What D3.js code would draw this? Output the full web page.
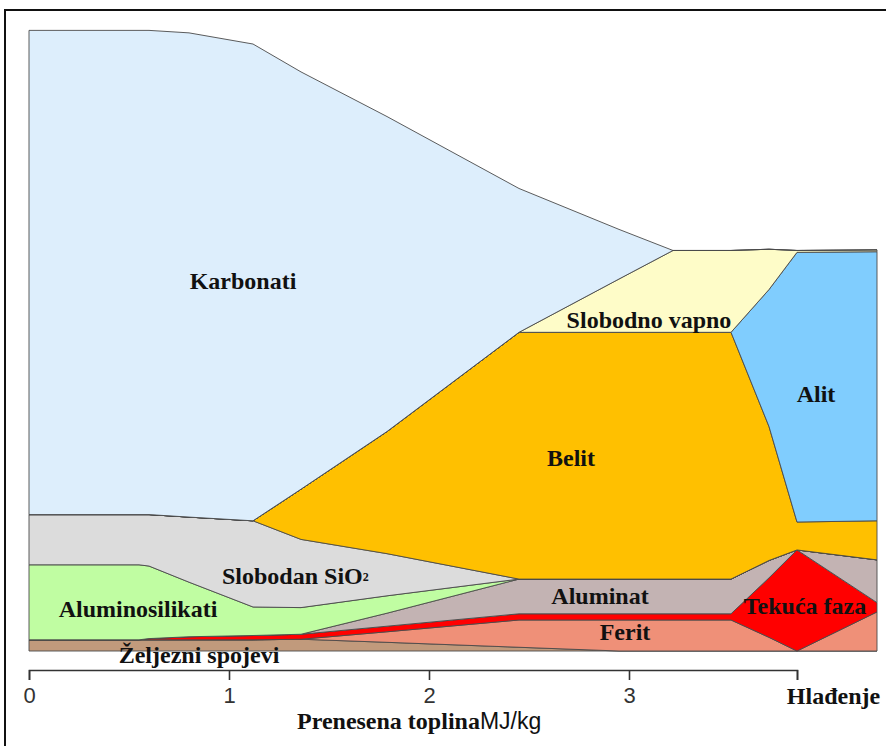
<!DOCTYPE html>
<html>
<head>
<meta charset="utf-8">
<style>
body { margin: 0; background: #fff; }
.lbl { font-family: "Liberation Serif", "Times New Roman", serif; font-weight: bold; font-size: 24px; fill: #111; }
.num { font-family: "Liberation Sans Narrow", "Liberation Sans", Arial, sans-serif; font-size: 22px; fill: #333; }
</style>
</head>
<body>
<svg width="886" height="746"></svg>
<script src="https://cdn.jsdelivr.net/npm/d3@7/dist/d3.min.js"></script>
<script>

// transferred heat, MJ/kg (last point is the cooling zone)
var heat = [0, 0.55, 0.6, 0.8, 1.12, 1.36, 1.79, 2.45, 2.95, 3.22, 3.51, 3.7, 3.84, 4.24];

// mass share of each phase, % of raw meal (bottom to top)
var zeljezni   = [1.8, 1.8, 1.8, 1.8, 1.8, 1.9, 1.4, 0.6, 0, 0, 0, 0, 0, 0];
var ferit      = [0, 0, 0, 0, 0, 0, 1.7, 4.4, 5.0, 5.0, 5.0, 2.2, 0, 6.3];
var tekuca     = [0, 0, 0.2, 0.5, 0.7, 0.8, 0.9, 1.0, 1.0, 1.0, 1.0, 9.6, 16.3, 1.5];
var aluminat   = [0, 0, 0, 0, 0, 0, 2.1, 5.6, 5.6, 5.6, 5.6, 2.8, 0, 6.9];
var alumosil   = [12.1, 12.1, 11.7, 8.8, 4.6, 4.3, 2.8, 0, 0, 0, 0, 0, 0, 0];
var sio2       = [8.1, 8.1, 8.3, 10.5, 13.9, 11.0, 6.8, 0, 0, 0, 0, 0, 0, 0];
var belit      = [0, 0, 0, 0, 0, 8.1, 19.7, 39.8, 39.8, 39.8, 39.8, 21.6, 4.5, 6.3];
var alit       = [0, 0, 0, 0, 0, 0, 0, 0, 0, 0, 0, 22.1, 43.5, 43.4];
var vapno      = [0, 0, 0, 0, 0, 0, 0, 0, 8.6, 13.2, 13.2, 6.5, 0.3, 0.3];
var karbonati  = [78.1, 78.1, 78.1, 78.1, 76.9, 67.3, 50.8, 23.2, 8.0, 0, 0, 0, 0, 0];

var phases = ["Željezni spojevi", "Ferit", "Tekuća faza", "Aluminat", "Aluminosilikati",
              "Slobodan SiO2", "Belit", "Alit", "Slobodno vapno", "Karbonati"];
var series = [zeljezni, ferit, tekuca, aluminat, alumosil, sio2, belit, alit, vapno, karbonati];
var colors = ["#c19a7c", "#ef9078", "#ff0000", "#c3b3b3", "#c0fda2",
              "#dcdcdc", "#ffc000", "#80cdfe", "#fefcc8", "#ddeefc"];

// axis ticks
var tickValues = [0, 1, 2, 3, 3.84];
var tickLabels = ["0", "1", "2", "3", "Hlađenje"];

// label anchors in data units (heat, %)
var labelNames = ["Karbonati", "Slobodno vapno", "Belit", "Alit", "Slobodan SiO", "Aluminosilikati",
                  "Aluminat", "Tekuća faza", "Ferit", "Željezni spojevi"];
var labelX = [1.07, 3.1, 2.71, 3.935, 1.31, 0.545, 2.855, 3.88, 2.98, 0.85];
var labelY = [59.7, 53.4, 31.1, 41.5, 12.1, 6.8, 8.9, 7.3, 3.1, -0.6];

var svg = d3.select("svg");

var x = d3.scaleLinear().domain([0, 4.24]).range([29, 877]);
var y = d3.scaleLinear().domain([0, 100]).range([651, 31]);

//frame around the figure
svg.append("path")
	.attr("d", "M5,746 L5,10 L886,10")
	.attr("fill", "none")
	.attr("stroke", "#111")
	.attr("stroke-width", 2);

//build table for the stack
var rows = heat.map(function(h, i){
	var r = {t: h};
	phases.forEach(function(p, k){ r[p] = series[k][i]; });
	return r;
});

var stacked = d3.stack().keys(phases)(rows);

var area = d3.area()
	.x(function(d){ return x(d.data.t); })
	.y0(function(d){ return y(d[0]); })
	.y1(function(d){ return y(d[1]); });

svg.append("g").selectAll("path")
	.data(stacked)
	.enter().append("path")
	.attr("d", area)
	.attr("fill", function(d, i){ return colors[i]; })
	.attr("stroke", "#4a4a4a")
	.attr("stroke-width", 0.9)
	.attr("stroke-linejoin", "round");

//phase labels
var labels = svg.append("g").selectAll("text")
	.data(labelNames)
	.enter().append("text")
	.attr("class", "lbl")
	.attr("x", function(d, i){ return x(labelX[i]); })
	.attr("y", function(d, i){ return y(labelY[i]); })
	.attr("text-anchor", "middle")
	.attr("dominant-baseline", "central")
	.text(function(d){ return d; });

// subscript for SiO2
labels.filter(function(d){ return d == "Slobodan SiO"; })
	.attr("text-anchor", "start")
	.attr("x", 222)
	.append("tspan")
	.attr("font-size", 12)
	.attr("dy", 1)
	.text("2");

//x axis, only up to the cooling tick
var xa = x.copy().domain([0, 3.84]).range([x(0), x(3.84)]);
var axis = svg.append("g")
	.attr("transform", "translate(0,670)")
	.call(d3.axisBottom(xa).tickValues(tickValues).tickSize(10).tickPadding(7)
		.tickFormat(function(d, i){ return tickLabels[i]; }));

axis.select(".domain").attr("stroke", "#333").attr("stroke-width", 1.6);
axis.selectAll(".tick line").attr("stroke", "#333").attr("stroke-width", 1.6);
axis.selectAll(".tick text")
	.attr("class", function(d, i){ return i == 4 ? "lbl" : "num"; })
	.attr("dx", function(d, i){ return i == 4 ? 36 : 0; });

// axis title
var title = svg.append("text")
	.attr("x", 297)
	.attr("y", 729)
	.attr("class", "lbl");
title.append("tspan").text("Prenesena toplina");
title.append("tspan")
	.attr("font-family", "Liberation Sans Narrow, Liberation Sans, Arial, sans-serif")
	.attr("font-weight", "normal")
	.attr("font-size", 23)
	.text("MJ/kg");

</script>
</body>
</html>
